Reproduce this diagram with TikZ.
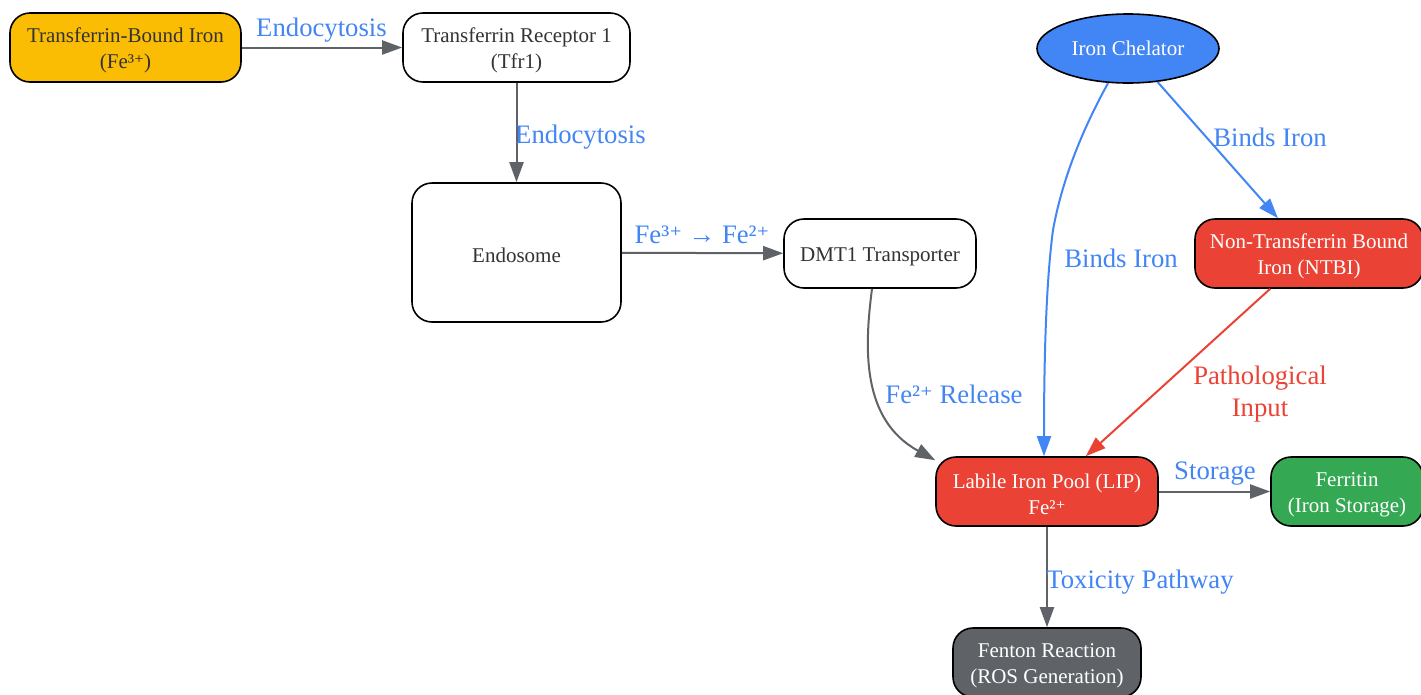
\documentclass[tikz,border=0pt]{standalone}
\usepackage{fontspec}
\setmainfont{Liberation Serif}
\newfontfamily\plusfont[Scale=0.9]{DejaVu Serif}
\newcommand{\supplus}{{\plusfont ⁺}}
\newcommand{\tstrut}{\rule{0pt}{20.5pt}}
\usetikzlibrary{arrows.meta,shapes.geometric}
\definecolor{gyellow}{HTML}{FBBC04}
\definecolor{gblue}{HTML}{4285F4}
\definecolor{gred}{HTML}{EA4335}
\definecolor{ggreen}{HTML}{34A853}
\definecolor{ggray}{HTML}{5F6368}
\definecolor{txt}{HTML}{333333}
\begin{document}
\begin{tikzpicture}[x=1pt,y=-1pt,
  box/.style={draw=black,line width=1.6pt,rounded corners=20pt,minimum height=69pt,inner sep=0pt,align=center,font=\fontsize{21}{26}\selectfont,text=txt,fill=white},
  lbl/.style={font=\fontsize{26.7}{32}\selectfont,text=gblue,inner sep=0pt,align=center},
  conn/.style={draw=ggray,line width=2pt,-{Triangle[length=20pt,width=14pt]}},
  bconn/.style={conn,draw=gblue},
  rconn/.style={conn,draw=gred},
]
\useasboundingbox (0,0) rectangle (1421,694);
% nodes
\node[box,fill=gyellow,minimum width=231pt] (tbi) at (125.5,47.5) {\tstrut Transferrin-Bound Iron\\(Fe³\supplus)};
\node[box,minimum width=227pt] (tfr) at (516.5,47.5) {\tstrut Transferrin Receptor 1\\(Tfr1)};
\node[box,minimum width=209pt,minimum height=139pt] (endo) at (516.5,252.5) {\tstrut Endosome};
\node[box,minimum width=192pt] (dmt) at (880,253.5) {\tstrut DMT1 Transporter};
\node[draw=black,line width=1.6pt,ellipse,fill=gblue,text=white,minimum width=182pt,minimum height=69pt,inner sep=0pt,font=\fontsize{21}{26}\selectfont] (chel) at (1128,48.5) {Iron Chelator};
\node[box,fill=gred,text=white,minimum width=228pt] (ntbi) at (1309,253.5) {\tstrut Non-Transferrin Bound\\Iron (NTBI)};
\node[box,fill=gred,text=white,minimum width=222pt] (lip) at (1047,491.5) {\tstrut Labile Iron Pool (LIP)\\Fe²\supplus};
\node[box,fill=ggreen,text=white,minimum width=152pt] (fer) at (1347,491.5) {\tstrut Ferritin\\(Iron Storage)};
\node[box,fill=ggray,text=white,minimum width=188pt] (fen) at (1047,662.5) {\tstrut Fenton Reaction\\(ROS Generation)};
% connectors
\draw[conn] (tbi) -- (tfr);
\draw[conn] (tfr) -- (endo);
\draw[conn] (endo) -- (dmt);
\draw[conn] ([xshift=-8pt]dmt.south) .. controls (864,350) and (862,420) .. ([yshift=-4pt]lip.north west);
\draw[bconn] (chel) -- (ntbi);
\draw[bconn] (chel.240) .. controls (1085,125) and (1063,175) .. (1053,230) .. controls (1045,290) and (1044,380) .. ([xshift=-3pt]lip.north);
\draw[rconn] (ntbi) -- (lip);
\draw[conn] (lip) -- (fer);
\draw[conn] (lip) -- (fen);
% labels
\node[lbl] (l1) at (321.5,30.5) {Endocytosis};
\node[lbl] (l2) at (580.5,137) {Endocytosis};
\node[lbl] (l3) at (702,235) {Fe³\supplus{} → Fe²\supplus};
\node[lbl] (l4) at (954,394) {Fe²\supplus{} Release};
\node[lbl] (l5) at (1270,137) {Binds Iron};
\node[lbl] (l6) at (1121,258) {Binds Iron};
\node[lbl,text=gred] (l7) at (1260,394) {Pathological\\Input};
\node[lbl] (l8) at (1215,474) {Storage};
\node[lbl] (l9) at (1140,582) {Toxicity Pathway};
\end{tikzpicture}
\end{document}
